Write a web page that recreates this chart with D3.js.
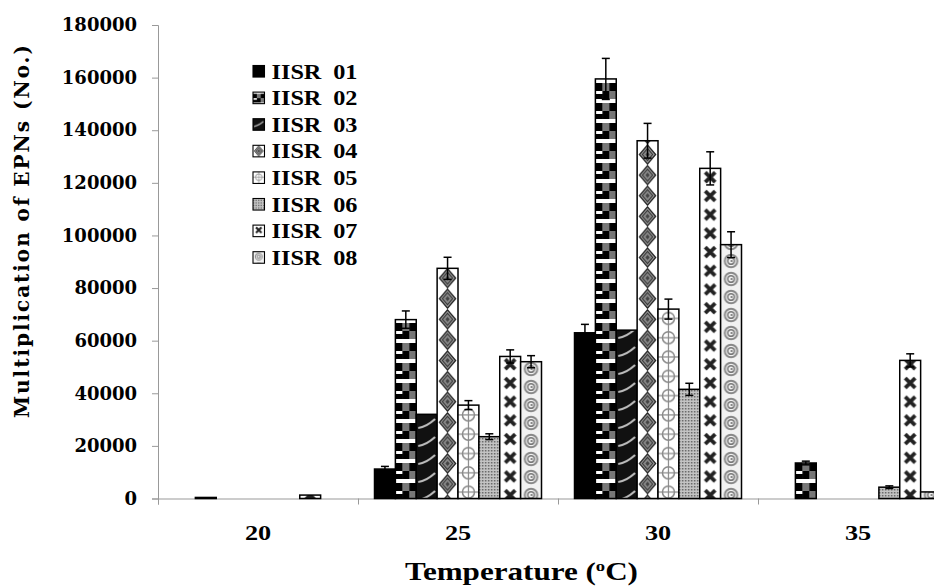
<!DOCTYPE html>
<html>
<head>
<meta charset="utf-8">
<script src="https://cdn.jsdelivr.net/npm/d3@7"></script>
<style>
  body { margin: 0; background: #fff; }
  svg { display: block; }
</style>
</head>
<body>
<svg id="chart"></svg>
<script>
const w = 934, h = 588;

// data
const temps = ['20', '25', '30', '35'];
const isolates = ['IISR 01', 'IISR 02', 'IISR 03', 'IISR 04', 'IISR 05', 'IISR 06', 'IISR 07', 'IISR 08'];
const iisr01 = [0, 11200, 63000, 0];
const iisr02 = [400, 68000, 159500, 13500];
const iisr03 = [0, 32000, 64000, 0];
const iisr04 = [0, 87500, 136000, 0];
const iisr05 = [0, 35500, 72000, 0];
const iisr06 = [0, 23500, 41500, 4300];
const iisr07 = [1300, 54000, 125500, 52500];
const iisr08 = [0, 52000, 96500, 2500];
const err01 = [0, 1000, 3200, 0];
const err02 = [0, 3300, 7800, 700];
const err03 = [0, 0, 0, 0];
const err04 = [0, 4200, 6600, 0];
const err05 = [0, 1700, 3800, 0];
const err06 = [0, 1100, 2300, 500];
const err07 = [0, 2500, 6300, 2500];
const err08 = [0, 2300, 4900, 0];
const yTicks = [0, 20000, 40000, 60000, 80000, 100000, 120000, 140000, 160000, 180000];

const valores = [iisr01, iisr02, iisr03, iisr04, iisr05, iisr06, iisr07, iisr08];
const errores = [err01, err02, err03, err04, err05, err06, err07, err08];

const izq = 158, base = 498.5, arriba = 25;

const svg = d3.select('#chart').attr('width', w).attr('height', h);

const escalaY = d3.scaleLinear().domain([0, 180000]).range([base, arriba]);
const escalaX = d3.scaleBand().domain(temps).range([izq, izq + 800]);
const escalaS = d3.scaleBand().domain(isolates).range([16.5, 183.5]);
const bw = escalaS.bandwidth();

// the picture is stretched sideways, so the Times text gets widened too
function estirar(sel, f) {
  sel.each(function () {
    const largo = this.getComputedTextLength();
    d3.select(this).attr('textLength', largo * f).attr('lengthAdjust', 'spacingAndGlyphs');
  });
}

// fill patterns, one per isolate
const defs = svg.append('defs');
function patron(id, ph) {
  return defs.append('pattern').attr('id', id)
    .attr('patternUnits', 'userSpaceOnUse')
    .attr('width', bw).attr('height', ph);
}
// 01 solid black - no pattern
// 02 checks
let p = patron('p1', 20);
p.append('rect').attr('width', bw).attr('height', 20).attr('fill', '#fff');
[[0, 3, '#000'], [7, 3, '#777'], [14, 3, '#000'], [7, 11, '#000'], [14, 11, '#777'], [0, 11, '#000']]
  .forEach(c => p.append('rect').attr('x', c[0]).attr('y', c[1]).attr('width', 7).attr('height', 8).attr('fill', c[2]));
p.append('rect').attr('x', 0).attr('y', 11).attr('width', 7).attr('height', 3).attr('fill', '#fff');
// 03 black with light streaks
p = patron('p2', 18);
p.append('rect').attr('width', bw).attr('height', 18).attr('fill', '#111');
p.append('path').attr('d', `M2,14 Q10,13 ${bw - 2},5`).attr('stroke', '#bbb').attr('stroke-width', 2.2).attr('fill', 'none');
// 04 diamonds
p = patron('p3', 20.6);
p.append('rect').attr('width', bw).attr('height', 20.6).attr('fill', '#fff');
const cx = bw / 2, cy = 10.3;
function rombo(s) {
  return `M${cx},${cy - 10 * s} L${cx + 8.5 * s},${cy} L${cx},${cy + 10 * s} L${cx - 8.5 * s},${cy} Z`;
}
p.append('path').attr('d', rombo(0.95)).attr('fill', '#999').attr('stroke', '#222').attr('stroke-width', 1.3);
p.append('path').attr('d', rombo(0.6)).attr('fill', '#888').attr('stroke', '#333').attr('stroke-width', 1);
p.append('path').attr('d', rombo(0.25)).attr('fill', '#444');
// 05 circle with cross
p = patron('p4', 19.3);
p.append('rect').attr('width', bw).attr('height', 19.3).attr('fill', '#fff');
p.append('circle').attr('cx', bw / 2).attr('cy', 9.6).attr('r', 6).attr('fill', 'none').attr('stroke', '#888').attr('stroke-width', 1.5);
p.append('line').attr('x1', 0).attr('x2', bw).attr('y1', 9.6).attr('y2', 9.6).attr('stroke', '#888').attr('stroke-width', 1.2);
p.append('line').attr('x1', bw / 2).attr('x2', bw / 2).attr('y1', 0).attr('y2', 19.3).attr('stroke', '#888').attr('stroke-width', 1.2);
// 06 fine dots
p = defs.append('pattern').attr('id', 'p5').attr('patternUnits', 'userSpaceOnUse').attr('width', 3).attr('height', 3);
p.append('rect').attr('width', 3).attr('height', 3).attr('fill', '#c4c4c4');
p.append('rect').attr('width', 1.5).attr('height', 1.5).attr('fill', '#666');
// 07 crosses
p = patron('p6', 18.7);
p.append('rect').attr('width', bw).attr('height', 18.7).attr('fill', '#fff');
p.append('path').attr('d', `M${bw / 2 - 5},4 L${bw / 2 + 5},14 M${bw / 2 + 5},4 L${bw / 2 - 5},14`)
  .attr('stroke', '#222').attr('stroke-width', 3.8).attr('fill', 'none');
// 08 spirals
p = patron('p7', 18);
p.append('rect').attr('width', bw).attr('height', 18).attr('fill', '#f2f2f2');
p.append('circle').attr('cx', bw / 2).attr('cy', 9).attr('r', 6.3).attr('fill', 'none').attr('stroke', '#888').attr('stroke-width', 1.9);
p.append('circle').attr('cx', bw / 2).attr('cy', 9).attr('r', 3.3).attr('fill', 'none').attr('stroke', '#777').attr('stroke-width', 1.6);
p.append('circle').attr('cx', bw / 2 + 0.5).attr('cy', 9).attr('r', 1).attr('fill', '#666');

const relleno = i => i === 0 ? '#000' : 'url(#p' + i + ')';

// axes
const ejeY = d3.axisLeft(escalaY).tickValues(yTicks).tickSize(6).tickPadding(15).tickFormat(d3.format('d'));
const gy = svg.append('g').attr('transform', 'translate(' + izq + ',0)').call(ejeY);
gy.select('.domain').attr('stroke', '#999');
gy.selectAll('.tick line').attr('stroke', '#999');
gy.selectAll('text')
  .attr('font-family', 'DejaVu Serif').attr('font-weight', 'bold').attr('font-size', 18)
  .attr('fill', '#000');

const escalaBordes = d3.scaleLinear().domain([0, 4]).range([izq, izq + 800]);
const gx = svg.append('g').attr('transform', 'translate(0,' + base + ')')
  .call(d3.axisBottom(escalaBordes).tickValues([0, 1, 2, 3]).tickSize(6).tickFormat(''));
gx.select('.domain').attr('stroke', '#999');
gx.selectAll('.tick line').attr('stroke', '#999');

const gxl = svg.append('g').attr('transform', 'translate(0,' + base + ')')
  .call(d3.axisBottom(escalaX).tickSize(0).tickPadding(27));
gxl.select('.domain').remove();
gxl.selectAll('text')
  .attr('font-family', 'Liberation Serif').attr('font-weight', 'bold').attr('font-size', 21).attr('fill', '#000')
  .call(estirar, 1.25);

// bars
const filas = [];
isolates.forEach((s, i) => temps.forEach((t, j) => {
  filas.push({s: s, i: i, t: t, v: valores[i][j], e: errores[i][j]});
}));

const barras = svg.append('g').selectAll('g.bar')
  .data(filas.filter(d => d.v > 0))
  .enter().append('g')
  .attr('class', 'bar')
  .attr('transform', d => 'translate(' + (escalaX(d.t) + escalaS(d.s)) + ',0)');

barras.append('rect')
  .attr('x', 0)
  .attr('y', d => escalaY(d.v))
  .attr('width', bw)
  .attr('height', d => base - escalaY(d.v))
  .attr('fill', d => relleno(d.i))
  .attr('stroke', '#000')
  .attr('stroke-width', 1.5);

const errs = barras.filter(d => d.e > 0).append('g')
  .attr('stroke', '#000').attr('stroke-width', 1.5);
errs.append('line').attr('x1', bw / 2).attr('x2', bw / 2)
  .attr('y1', d => escalaY(d.v + d.e)).attr('y2', d => escalaY(d.v - d.e));
errs.append('line').attr('x1', bw / 2 - 4).attr('x2', bw / 2 + 4)
  .attr('y1', d => escalaY(d.v + d.e)).attr('y2', d => escalaY(d.v + d.e));
errs.append('line').attr('x1', bw / 2 - 4).attr('x2', bw / 2 + 4)
  .attr('y1', d => escalaY(d.v - d.e)).attr('y2', d => escalaY(d.v - d.e));

// legend
const leyenda = svg.append('g').attr('transform', 'translate(253,65)');
const items = leyenda.selectAll('g').data(isolates).enter().append('g')
  .attr('transform', (d, i) => 'translate(0,' + (i * 26.6) + ')');
items.append('g').attr('transform', 'translate(0,0.5) scale(0.55)')
  .append('rect').attr('width', bw).attr('height', 21)
  .attr('fill', (d, i) => relleno(i)).attr('stroke', '#000').attr('stroke-width', 2);
items.append('text')
  .attr('x', 18.5).attr('y', 13.5)
  .attr('font-family', 'Liberation Serif').attr('font-weight', 'bold').attr('font-size', 21)
  .attr('word-spacing', 5)
  .attr('textLength', 86).attr('lengthAdjust', 'spacingAndGlyphs')
  .text(d => d);

// axis titles
svg.append('text')
  .attr('transform', 'translate(29,231.5) rotate(-90)')
  .attr('text-anchor', 'middle')
  .attr('font-family', 'DejaVu Serif').attr('font-weight', 'bold').attr('font-size', 20)
  .attr('textLength', 373).attr('lengthAdjust', 'spacing')
  .text('Multiplication of EPNs (No.)');

const tt = svg.append('text')
  .attr('x', 405).attr('y', 580)
  .attr('font-family', 'Liberation Serif').attr('font-weight', 'bold').attr('font-size', 25)
  .attr('textLength', 233).attr('lengthAdjust', 'spacingAndGlyphs');
tt.append('tspan').text('Temperature (');
tt.append('tspan').attr('dy', -9).attr('font-size', 15).text('o');
tt.append('tspan').attr('dy', 9).text('C)');
</script>
</body>
</html>
